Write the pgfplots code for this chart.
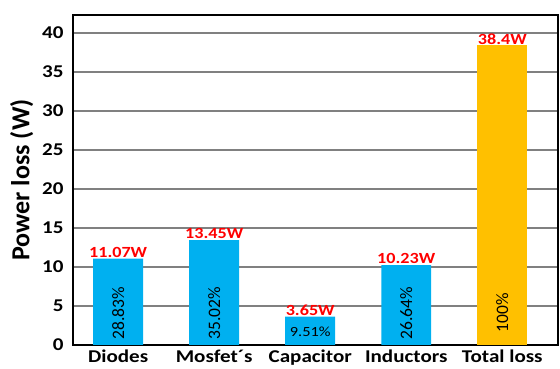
\documentclass[border=0pt]{standalone}
\usepackage{pgfplots}
\pgfplotsset{compat=1.18}
\usepackage{fontspec}
\setmainfont{Carlito}[FakeStretch=1.17]
\newfontfamily\plainfont{Carlito}
\definecolor{barblue}{HTML}{00B0F0}
\definecolor{barorange}{HTML}{FFC000}
\definecolor{valred}{HTML}{FF0000}
\begin{document}
\begin{tikzpicture}
\useasboundingbox (-73pt,-24pt) rectangle (487pt,345pt);
\begin{axis}[
  at={(0pt,0pt)}, anchor=south west,
  scale only axis,
  width=485pt, height=330pt,
  xmin=-0.47, xmax=4.58,
  ymin=0, ymax=42.3,
  ytick={0,5,...,40},
  xtick={0,1,2,3,4},
  xticklabels={Diodes,Mosfet´s,Capacitor,Inductors,Total loss},
  ymajorgrids,
  grid style={line width=1.4pt, color=black!50},
  axis line style={line width=2.5pt},
  major tick length=0pt,
  tick label style={font=\fontsize{18}{18}\selectfont\bfseries},
  /pgf/number format/assume math mode=true,
  ylabel={\plainfont\bfseries Power loss (W)},
  ylabel style={font=\fontsize{26}{26}\selectfont, yshift=2pt},
  xticklabel style={yshift=-1pt},
  yticklabel style={xshift=-6pt},
  bar width=0.52,
  nodes near coords style={font=\fontsize{15.5}{15.5}\selectfont\bfseries, text=valred, anchor=south, inner sep=1pt},
]
\addplot[ybar, bar shift=0pt, fill=barblue, draw=none,
  nodes near coords, point meta=explicit symbolic]
  table[meta=lab] {
x y lab
0 11.07 11.07W
1 13.45 13.45W
2 3.65 3.65W
3 10.23 10.23W
};
\addplot[ybar, bar shift=0pt, fill=barorange, draw=none,
  nodes near coords, point meta=explicit symbolic]
  table[meta=lab] {
x y lab
4 38.4 38.4W
};
\addplot[only marks, mark=none, nodes near coords, point meta=explicit symbolic,
  nodes near coords style={rotate=90, anchor=center, text=black, font=\fontsize{17.5}{17.5}\plainfont}]
  table[meta=lab] {
x y lab
0 4.1 28.83\%
1 4.1 35.02\%
3 4.1 26.64\%
4 4.1 100\%
};
\addplot[only marks, mark=none, nodes near coords, point meta=explicit symbolic,
  nodes near coords style={anchor=center, text=black, font=\fontsize{14}{14}\selectfont}]
  table[meta=lab] {
x y lab
2 1.7 9.51\%
};
\end{axis}
\end{tikzpicture}
\end{document}
